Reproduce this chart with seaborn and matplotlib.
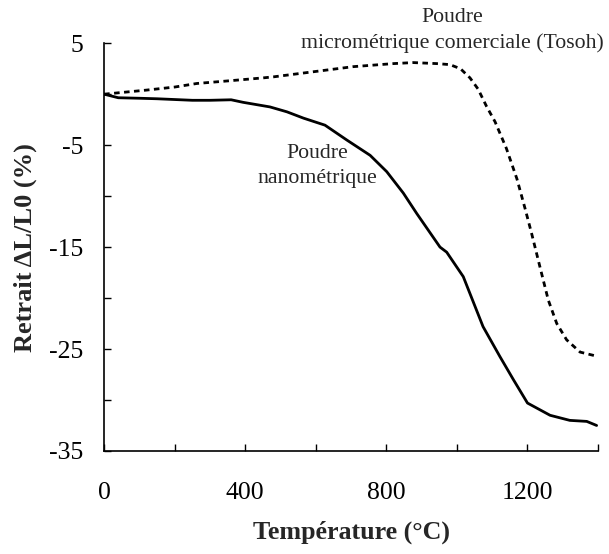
import matplotlib
matplotlib.use('Agg')
import matplotlib.pyplot as plt
import numpy as np
import pandas as pd
import seaborn as sns

# temperature (°C) and shrinkage (%)
temp_micro = [0, 60, 120, 200, 263, 350, 451, 480, 593, 706, 820, 876, 943, 980,
              1010, 1037, 1060, 1084, 1108, 1140, 1170, 1193, 1212, 1235, 1259,
              1283, 1311, 1349, 1396]
retrait_micro = [0, 0.2, 0.4, 0.7, 1.05, 1.3, 1.6, 1.7, 2.2, 2.7, 3.0, 3.1, 3.0, 2.9,
                 2.5, 1.6, 0.5, -1.2, -2.7, -5.3, -8.3, -11.2, -13.7, -16.9, -20.2,
                 -22.5, -24.1, -25.3, -25.7]

temp_nano = [0, 40, 100, 150, 250, 300, 360, 394, 470, 518, 565, 626, 688, 754, 801,
             848, 886, 924, 952, 971, 1018, 1074, 1122, 1160, 1200, 1264, 1320, 1368,
             1396]
retrait_nano = [0, -0.35, -0.4, -0.45, -0.6, -0.6, -0.55, -0.8, -1.25, -1.73, -2.35,
                -3.04, -4.5, -6.0, -7.6, -9.7, -11.7, -13.6, -15.0, -15.5, -17.9, -22.8,
                -25.75, -28.0, -30.3, -31.5, -32.0, -32.1, -32.5]

x_ticks = [0, 200, 400, 600, 800, 1000, 1200, 1400]
x_labels = ['0', '', '400', '', '800', '', '1200', '']
y_ticks = [5, 0, -5, -10, -15, -20, -25, -30, -35]
y_labels = ['5', '', '-5', '', '-15', '', '-25', '', '-35']

df_micro = pd.DataFrame({'T': temp_micro, 'R': retrait_micro})
df_nano = pd.DataFrame({'T': temp_nano, 'R': retrait_nano})

sns.set_style('ticks')
plt.rcParams['font.family'] = ['Liberation Serif', 'DejaVu Serif']

fig = plt.figure(figsize=(6.09, 5.54), dpi=100)
ax = fig.add_axes([0.171, 0.186, 0.811, 0.736])

sns.lineplot(data=df_micro, x='T', y='R', ax=ax, color='black', linewidth=2,
             linestyle=(0, (2, 1.6)), sort=False)
sns.lineplot(data=df_nano, x='T', y='R', ax=ax, color='black', linewidth=2, sort=False)

ax.set_xlim(0, 1400)
ax.set_ylim(-35, 5)
ax.set_xticks(x_ticks)
ax.set_xticklabels(x_labels)
ax.set_yticks(y_ticks)
ax.set_yticklabels(y_labels)
ax.tick_params(direction='in', length=5, width=1, labelsize=18.5, colors='black')
ax.tick_params(axis='x', pad=22)
ax.tick_params(axis='y', pad=15)

for s in ['top', 'right']:
    ax.spines[s].set_visible(False)
for s in ['left', 'bottom']:
    ax.spines[s].set_linewidth(1.2)
    ax.spines[s].set_color('black')

ax.set_xlabel('Température (°C)', fontsize=18.7, fontweight='bold', labelpad=12)
ax.set_ylabel('Retrait ΔL/L0 (%)', fontsize=19, fontweight='bold', labelpad=9)

ax.text(986, 6.27, 'Poudre\nmicrométrique comerciale (Tosoh)', fontsize=15.7,
        ha='center', va='center', linespacing=1.42)
ax.text(604, -7.06, 'Poudre\nnanométrique', fontsize=15.7,
        ha='center', va='center', linespacing=1.42)

fig.savefig('out.png', dpi=100)
